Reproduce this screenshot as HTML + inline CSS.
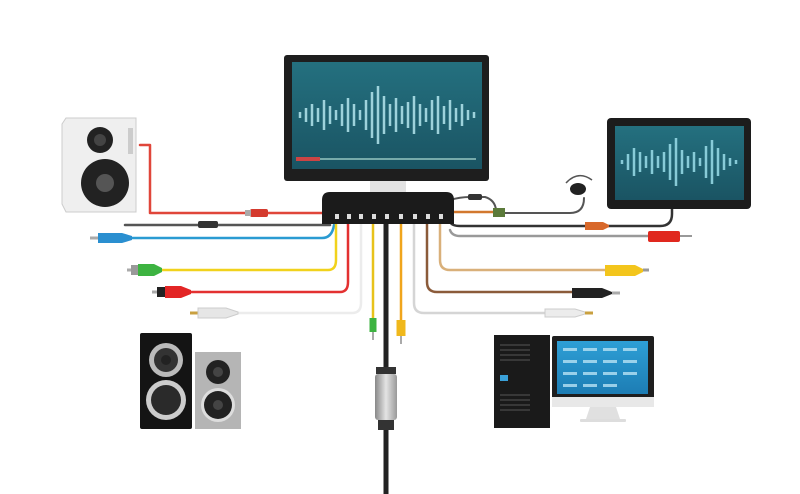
<!DOCTYPE html>
<html><head><meta charset="utf-8"><style>html,body{margin:0;padding:0;background:#fff}svg{display:block}</style></head>
<body>
<svg width="800" height="494" viewBox="0 0 800 494" xmlns="http://www.w3.org/2000/svg">
<defs>
<linearGradient id="scr" x1="0" y1="0" x2="0" y2="1"><stop offset="0" stop-color="#24707f"/><stop offset="1" stop-color="#1a5463"/></linearGradient>
<linearGradient id="blu" x1="0" y1="0" x2="0" y2="1"><stop offset="0" stop-color="#2e9fd6"/><stop offset="1" stop-color="#1d7db4"/></linearGradient>
<linearGradient id="silv" x1="0" y1="0" x2="1" y2="0"><stop offset="0" stop-color="#888"/><stop offset=".5" stop-color="#e4e4e4"/><stop offset="1" stop-color="#999"/></linearGradient>
</defs>
<g fill="none" stroke-linejoin="round" stroke-linecap="round">
<path d="M140,145 H150 V213 H322" stroke="#e0463a" stroke-width="2.5"/>
<path d="M125,225 H330" stroke="#555" stroke-width="2.5"/>
<path d="M120,238 H322 Q332,238 334,225" stroke="#2a9bd2" stroke-width="2.5"/>
<path d="M160,270 H328 Q336,270 336,260 V220" stroke="#f1d21c" stroke-width="2.5"/>
<path d="M185,292 H340 Q348,292 348,282 V220" stroke="#e33131" stroke-width="2.5"/>
<path d="M235,313 H352 Q361,313 361,303 V220" stroke="#ececec" stroke-width="2.5"/>
<path d="M373,220 V330" stroke="#e8c21a" stroke-width="2.5"/>
<path d="M386,220 V494" stroke="#222" stroke-width="5"/>
<path d="M401,220 V322" stroke="#f0a51c" stroke-width="2.5"/>
<path d="M414,220 V303 Q414,313 424,313 H545" stroke="#d5d5d5" stroke-width="2.5"/>
<path d="M427,220 V282 Q427,292 437,292 H575" stroke="#8b5b3a" stroke-width="2.5"/>
<path d="M440,220 V260 Q440,270 450,270 H605" stroke="#d9b07a" stroke-width="2.5"/>
<path d="M450,230 Q452,236 460,236 H650" stroke="#999" stroke-width="2.5"/>
<path d="M450,222 Q452,226 460,226 H660 Q672,226 672,214 V206" stroke="#333" stroke-width="2.5"/>
<path d="M450,212 H500" stroke="#d2782e" stroke-width="2.5"/>
<path d="M505,213 H570 Q584,213 584,198" stroke="#555" stroke-width="2"/>
<path d="M450,200 Q460,197 470,197 H485 Q495,200 496,210" stroke="#555" stroke-width="2"/>
</g>
<rect x="250" y="209" width="18" height="8" rx="2" fill="#d43a2e"/>
<rect x="245" y="210" width="6" height="6" fill="#aaa"/>
<rect x="198" y="221" width="20" height="7" rx="2" fill="#333"/>
<path d="M90,238 h8" stroke="#aaa" stroke-width="3"/>
<path d="M98,233 h24 l10,3 v4 l-10,3 h-24z" fill="#2a8fd0"/>
<path d="M127,270 h6" stroke="#aaa" stroke-width="3"/>
<rect x="131" y="265" width="8" height="10" fill="#999"/>
<path d="M138,264 h16 l8,4 v4 l-8,4 h-16z" fill="#3db341"/>
<path d="M152,292 h6" stroke="#aaa" stroke-width="3"/>
<rect x="157" y="287" width="9" height="10" fill="#222"/>
<path d="M165,286 h16 l10,4 v4 l-10,4 h-16z" fill="#e32525"/>
<path d="M190,313 h8" stroke="#c9a040" stroke-width="3"/>
<path d="M198,308 h28 l12,4 v2 l-12,4 h-28z" fill="#e6e6e6" stroke="#ccc"/>
<path d="M373,318 v14" stroke="#3db341" stroke-width="7"/>
<path d="M373,332 v8" stroke="#aaa" stroke-width="2"/>
<path d="M401,320 v16" stroke="#f0b81c" stroke-width="9"/>
<path d="M401,336 v8" stroke="#aaa" stroke-width="2"/>
<rect x="376" y="367" width="20" height="7" fill="#333"/>
<rect x="375" y="374" width="22" height="46" rx="3" fill="url(#silv)"/>
<rect x="378" y="420" width="16" height="10" fill="#333"/>
<path d="M545,309 h30 l10,3 v2 l-10,3 h-30z" fill="#ececec" stroke="#ccc"/>
<path d="M585,313 h8" stroke="#c9a040" stroke-width="3"/>
<path d="M572,288 h30 l10,4 v2 l-10,4 h-30z" fill="#222"/>
<path d="M612,293 h8" stroke="#aaa" stroke-width="3"/>
<path d="M605,265 h30 l8,4 v3 l-8,4 h-30z" fill="#f3c51c"/>
<path d="M643,270 h6" stroke="#999" stroke-width="3"/>
<rect x="648" y="231" width="32" height="11" rx="2" fill="#e0281e"/>
<path d="M680,236 h12" stroke="#999" stroke-width="2"/>
<path d="M585,222 h18 l6,3 v2 l-6,3 h-18z" fill="#d8682a"/>
<rect x="493" y="208" width="12" height="9" fill="#5b7a3a"/>
<rect x="468" y="194" width="14" height="6" rx="2" fill="#333"/>
<path d="M566,183 Q578,170 592,180" fill="none" stroke="#555" stroke-width="1.5"/>
<ellipse cx="578" cy="189" rx="8" ry="6" fill="#222"/>
<rect x="370" y="178" width="36" height="16" fill="#e2e2e2"/>
<rect x="284" y="55" width="205" height="126" rx="3" fill="#1e1e1e"/>
<rect x="292" y="62" width="190" height="107" fill="url(#scr)"/>
<g stroke="#b4e6ee" stroke-width="2.5" opacity=".85">
<path d="M300,112v6M306,108v14M312,104v22M318,108v14M324,100v30M330,106v18M336,110v10M342,104v22M348,98v34M354,104v22M360,110v10M366,100v30M372,92v46M378,86v58M384,96v38M390,104v22M396,98v34M402,106v18M408,102v26M414,96v38M420,104v22M426,108v14M432,100v30M438,96v38M444,106v18M450,100v30M456,108v14M462,104v22M468,110v10M474,112v6"/>
</g>
<rect x="296" y="158" width="180" height="2" fill="#7aa"/>
<rect x="296" y="157" width="24" height="4" fill="#c44"/>
<path d="M330,192 h116 q8,0 8,8 v24 h-132 v-24 q0,-8 8,-8z" fill="#1b1b1b"/>
<g fill="#ddd"><rect x="335" y="214" width="4" height="5"/><rect x="347" y="214" width="4" height="5"/><rect x="359" y="214" width="4" height="5"/><rect x="372" y="214" width="4" height="5"/><rect x="385" y="214" width="4" height="5"/><rect x="399" y="214" width="4" height="5"/><rect x="413" y="214" width="4" height="5"/><rect x="426" y="214" width="4" height="5"/><rect x="439" y="214" width="4" height="5"/></g>
<path d="M66,118 h70 v94 h-70 l-4,-8 v-80z" fill="#efefef" stroke="#ccc"/>
<circle cx="100" cy="140" r="13" fill="#222"/><circle cx="100" cy="140" r="6" fill="#444"/>
<circle cx="105" cy="183" r="24" fill="#222"/><circle cx="105" cy="183" r="9" fill="#555"/>
<rect x="128" y="128" width="5" height="26" fill="#ccc"/>
<rect x="607" y="118" width="144" height="91" rx="4" fill="#1c1c1c"/>
<rect x="615" y="126" width="129" height="74" fill="url(#scr)"/>
<g stroke="#9adeea" stroke-width="2.5" opacity=".85">
<path d="M622,160v4M628,154v16M634,148v28M640,152v20M646,156v12M652,150v24M658,156v12M664,152v20M670,144v36M676,138v48M682,150v24M688,156v12M694,152v20M700,158v8M706,146v32M712,140v44M718,148v28M724,154v16M730,158v8M736,160v4"/>
</g>
<rect x="140" y="333" width="52" height="96" rx="2" fill="#141414"/>
<circle cx="166" cy="360" r="17" fill="#bbb"/><circle cx="166" cy="360" r="12" fill="#333"/><circle cx="166" cy="360" r="5" fill="#222"/>
<circle cx="166" cy="400" r="20" fill="#ccc"/><circle cx="166" cy="400" r="15" fill="#2a2a2a"/>
<rect x="195" y="352" width="46" height="77" fill="#b5b5b5"/>
<circle cx="218" cy="372" r="12" fill="#222"/><circle cx="218" cy="372" r="5" fill="#444"/>
<circle cx="218" cy="405" r="17" fill="#ddd"/><circle cx="218" cy="405" r="14" fill="#222"/><circle cx="218" cy="405" r="5" fill="#444"/>
<rect x="494" y="335" width="56" height="93" fill="#1a1a1a"/>
<g stroke="#555" stroke-width="1"><path d="M500,345h30M500,350h30M500,355h30M500,360h30M500,395h30M500,400h30M500,405h30M500,410h30"/></g>
<rect x="500" y="375" width="8" height="6" fill="#3aa0d8"/>
<rect x="552" y="336" width="102" height="68" rx="2" fill="#1e1e1e"/>
<rect x="557" y="341" width="91" height="53" fill="url(#blu)"/>
<g fill="#b8e2f4" opacity=".8"><rect x="563" y="348" width="14" height="3"/><rect x="583" y="348" width="14" height="3"/><rect x="603" y="348" width="14" height="3"/><rect x="623" y="348" width="14" height="3"/><rect x="563" y="360" width="14" height="3"/><rect x="583" y="360" width="14" height="3"/><rect x="603" y="360" width="14" height="3"/><rect x="623" y="360" width="14" height="3"/><rect x="563" y="372" width="14" height="3"/><rect x="583" y="372" width="14" height="3"/><rect x="603" y="372" width="14" height="3"/><rect x="623" y="372" width="14" height="3"/><rect x="563" y="384" width="14" height="3"/><rect x="583" y="384" width="14" height="3"/><rect x="603" y="384" width="14" height="3"/></g>
<rect x="552" y="397" width="102" height="10" fill="#e8e8e8"/>
<path d="M590,407 h26 l4,12 h-34z" fill="#e0e0e0"/>
<rect x="580" y="419" width="46" height="3" rx="1" fill="#ddd"/>
</svg>
</body></html>
